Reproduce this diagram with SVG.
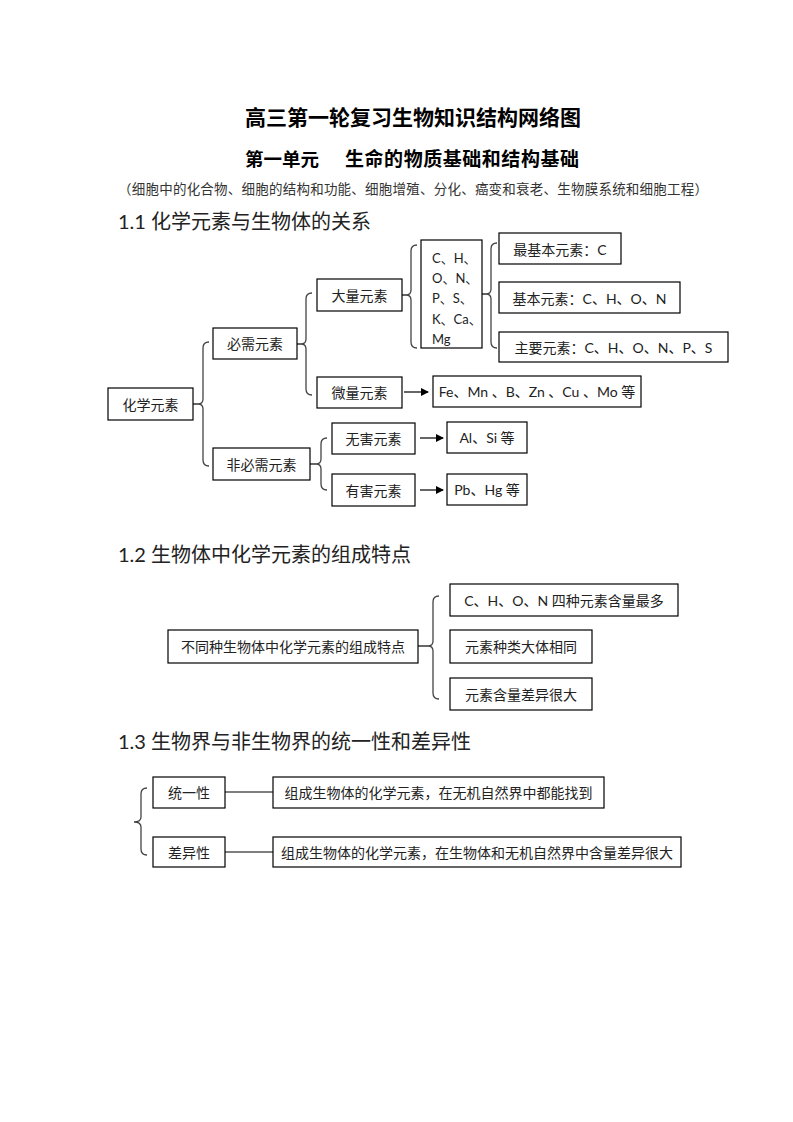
<svg xmlns="http://www.w3.org/2000/svg" width="793" height="1122" viewBox="0 0 793 1122">
<defs>
<style>
.bx{fill:#fff;stroke:#000;stroke-width:1.2}
.t{font-family:Lato,"Noto Sans CJK SC",sans-serif;font-size:14px;fill:#222;text-anchor:middle;dominant-baseline:central}
.tl{font-family:Lato,"Noto Sans CJK SC",sans-serif;font-size:13px;fill:#222;dominant-baseline:central}
.h{font-family:Lato,"Noto Sans CJK SC",sans-serif;font-size:20px;fill:#222}
.br{fill:none;stroke:#444;stroke-width:1.3}
.ln{fill:none;stroke:#000;stroke-width:1.2}
</style>
<marker id="ah" markerWidth="8" markerHeight="8" refX="7" refY="4" orient="auto" markerUnits="userSpaceOnUse">
<path d="M0,0 L8,4 L0,8 z" fill="#000"/>
</marker>
</defs>
<rect width="793" height="1122" fill="#fff"/>

<g id="titles">
<text x="413" y="125" font-family="'Noto Sans CJK SC',sans-serif" font-size="21" font-weight="bold" text-anchor="middle" fill="#000">高三第一轮复习生物知识结构网络图</text>
<text x="245" y="166" font-family="'Noto Sans CJK SC',sans-serif" font-size="18.5" font-weight="bold" fill="#000">第一单元</text>
<text x="345" y="166" font-family="'Noto Sans CJK SC',sans-serif" font-size="19" font-weight="bold" fill="#000" textLength="234">生命的物质基础和结构基础</text>
<text x="118" y="194" font-family="'Noto Sans CJK SC',sans-serif" font-size="13.5" fill="#333" textLength="590">（细胞中的化合物、细胞的结构和功能、细胞增殖、分化、癌变和衰老、生物膜系统和细胞工程）</text>
<text class="h" x="118" y="229">1.1 化学元素与生物体的关系</text>
<text class="h" x="118" y="562">1.2 生物体中化学元素的组成特点</text>
<text class="h" x="118" y="749">1.3 生物界与非生物界的统一性和差异性</text>
</g>

<g id="connectors">
<!-- braces -->
<path class="br" d="M209,342 Q203,342 203,348 L203,399 Q203,404 198,404 Q203,404 203,409 L203,460 Q203,466 209,466"/>
<path class="br" d="M312,293 Q306,293 306,299 L306,339 Q306,344 301,344 Q306,344 306,349 L306,389 Q306,395 312,395"/>
<path class="br" d="M417,245 Q411,245 411,251 L411,290 Q411,295 406,295 Q411,295 411,300 L411,342 Q411,348 417,348"/>
<path class="br" d="M497,243 Q491,243 491,249 L491,289 Q491,294 486,294 Q491,294 491,299 L491,342 Q491,348 497,348"/>
<path class="br" d="M327,438 Q321,438 321,444 L321,459 Q321,464 316,464 Q321,464 321,469 L321,484 Q321,490 327,490"/>
<path class="br" d="M439,596 Q433,596 433,602 L433,641 Q433,646 428,646 Q433,646 433,651 L433,693 Q433,699 439,699"/>
<path class="br" d="M147,788 Q141,788 141,794 L141,817 Q141,822 134,822 Q141,822 141,827 L141,849 Q141,855 147,855"/>
<!-- stubs from boxes to brace tips -->
<line class="ln" x1="193" y1="404" x2="198" y2="404" stroke-width="2"/>
<line class="ln" x1="297" y1="344" x2="301" y2="344"/>
<line class="ln" x1="402" y1="295" x2="406" y2="295"/>
<line class="ln" x1="482" y1="294" x2="486" y2="294"/>
<line class="ln" x1="310" y1="464" x2="316" y2="464"/>
<line class="ln" x1="418" y1="646" x2="428" y2="646"/>
<!-- arrows -->
<line class="ln" x1="404" y1="392" x2="428" y2="392" marker-end="url(#ah)"/>
<line class="ln" x1="420" y1="438" x2="443" y2="438" marker-end="url(#ah)"/>
<line class="ln" x1="420" y1="490" x2="443" y2="490" marker-end="url(#ah)"/>
<!-- 1.3 lines -->
<line class="ln" x1="225" y1="792" x2="273" y2="792"/>
<line class="ln" x1="225" y1="852" x2="273" y2="852"/>
</g>

<g id="n-huaxueyuansu"><rect class="bx" x="108" y="388" width="85" height="32"/><text class="t" x="150.5" y="404">化学元素</text></g>
<g id="n-bixu"><rect class="bx" x="213" y="328" width="84" height="31"/><text class="t" x="255" y="343.5">必需元素</text></g>
<g id="n-daliang"><rect class="bx" x="317" y="279" width="85" height="32"/><text class="t" x="359.5" y="295">大量元素</text></g>
<g id="n-weiliang"><rect class="bx" x="317" y="377" width="85" height="31"/><text class="t" x="359.5" y="392.5">微量元素</text></g>
<g id="n-list">
<rect class="bx" x="421" y="240" width="61" height="108"/>
<text class="tl" x="432" y="258">C、H、</text>
<text class="tl" x="432" y="278">O、N、</text>
<text class="tl" x="432" y="298">P、S、</text>
<text class="tl" x="432" y="319">K、Ca、</text>
<text class="tl" x="432" y="339">Mg</text>
</g>
<g id="n-zuijiben"><rect class="bx" x="499" y="233" width="122" height="31"/><text class="t" x="560" y="249" font-size="13">最基本元素：C</text></g>
<g id="n-jiben"><rect class="bx" x="499" y="282" width="181" height="31"/><text class="t" x="589.5" y="298" font-size="13">基本元素：C、H、O、N</text></g>
<g id="n-zhuyao"><rect class="bx" x="499" y="332" width="229" height="30"/><text class="t" x="613.5" y="347.5" font-size="13">主要元素：C、H、O、N、P、S</text></g>
<g id="n-fe"><rect class="bx" x="433" y="376" width="208" height="31"/><text class="t" x="537" y="391.5" font-size="13">Fe、Mn 、B、Zn 、Cu 、Mo 等</text></g>
<g id="n-feibixu"><rect class="bx" x="213" y="448" width="97" height="32"/><text class="t" x="261.5" y="464">非必需元素</text></g>
<g id="n-wuhai"><rect class="bx" x="332" y="423" width="83" height="31"/><text class="t" x="373.5" y="438.5">无害元素</text></g>
<g id="n-youhai"><rect class="bx" x="332" y="474" width="83" height="32"/><text class="t" x="373.5" y="490">有害元素</text></g>
<g id="n-alsi"><rect class="bx" x="447" y="422" width="80" height="31"/><text class="t" x="487" y="437.5" font-size="13">Al、Si 等</text></g>
<g id="n-pbhg"><rect class="bx" x="447" y="474" width="80" height="31"/><text class="t" x="487" y="489.5" font-size="13">Pb、Hg 等</text></g>

<g id="n-butong"><rect class="bx" x="168" y="630" width="250" height="33"/><text class="t" x="293" y="646.5">不同种生物体中化学元素的组成特点</text></g>
<g id="n-chon"><rect class="bx" x="450" y="584" width="228" height="32"/><text class="t" x="564" y="600">C、H、O、N 四种元素含量最多</text></g>
<g id="n-zhonglei"><rect class="bx" x="450" y="630" width="142" height="33"/><text class="t" x="521" y="646.5">元素种类大体相同</text></g>
<g id="n-hanliang"><rect class="bx" x="450" y="678" width="142" height="32"/><text class="t" x="521" y="694">元素含量差异很大</text></g>

<g id="n-tongyi"><rect class="bx" x="153" y="777" width="72" height="31"/><text class="t" x="189" y="792.5">统一性</text></g>
<g id="n-tongyi-desc"><rect class="bx" x="273" y="777" width="331" height="31"/><text class="t" x="438.5" y="792.5">组成生物体的化学元素，在无机自然界中都能找到</text></g>
<g id="n-chayi"><rect class="bx" x="153" y="837" width="72" height="30"/><text class="t" x="189" y="852">差异性</text></g>
<g id="n-chayi-desc"><rect class="bx" x="273" y="837" width="408" height="30"/><text class="t" x="477" y="852">组成生物体的化学元素，在生物体和无机自然界中含量差异很大</text></g>
</svg>
